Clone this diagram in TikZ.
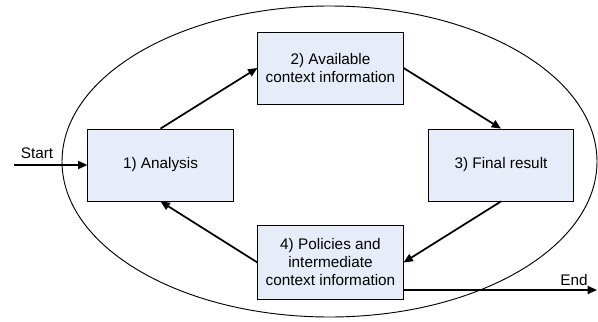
\documentclass[tikz,border=0pt]{standalone}
\usepackage{fontspec}
\setmainfont{Liberation Sans}
\usetikzlibrary{arrows.meta}
\definecolor{boxfill}{RGB}{231,237,248}
\tikzset{
	stepbox/.style={draw, fill=boxfill, line width=0.6pt, minimum width=109pt, minimum height=54pt, align=center, inner sep=0pt, font=\fontsize{11.5}{13.5}\selectfont},
	flow/.style={line width=1.3pt, -{Triangle[length=7pt,width=6pt]}},
	edgelabel/.style={inner sep=0pt, font=\fontsize{11.5}{13.5}\selectfont}
}
\begin{document}
\begin{tikzpicture}[x=0.75pt, y=-0.75pt]
			%%%%% START %%%%%
			\useasboundingbox (0, 0) rectangle (598, 321);
			
			\draw[line width=0.7pt] (329.5, 161.5) ellipse (267.5 and 155.5);
			
			\node[stepbox] (analysis) at (160.5, 165) {1) Analysis};
			\node[stepbox] (available) at (330.5, 68) {2) Available\\context information};
			\node[stepbox] (final) at (501, 165) {3) Final result};
			\node[stepbox, minimum height=55pt] (policies) at (330.5, 262.5) {4) Policies and\\intermediate\\context information};
			
			\coordinate (startpt) at (14, 165);
			\coordinate (endpt) at (597, 290);
			
			\draw[flow] (startpt) -- (analysis.west);
			\draw[flow] (analysis.north) -- (available.west);
			\draw[flow] (available.east) -- (final.north);
			\draw[flow] (final.south) -- (policies.east);
			\draw[flow] (policies.west) -- (analysis.south);
			\draw[flow] (policies.south east |- endpt) -- (endpt);
			
			\node[edgelabel] (startlabel) at (37, 153) {Start};
			\node[edgelabel] (endlabel) at (574, 280) {End};
			
			%%%%% END %%%%%
\end{tikzpicture}
\end{document}
